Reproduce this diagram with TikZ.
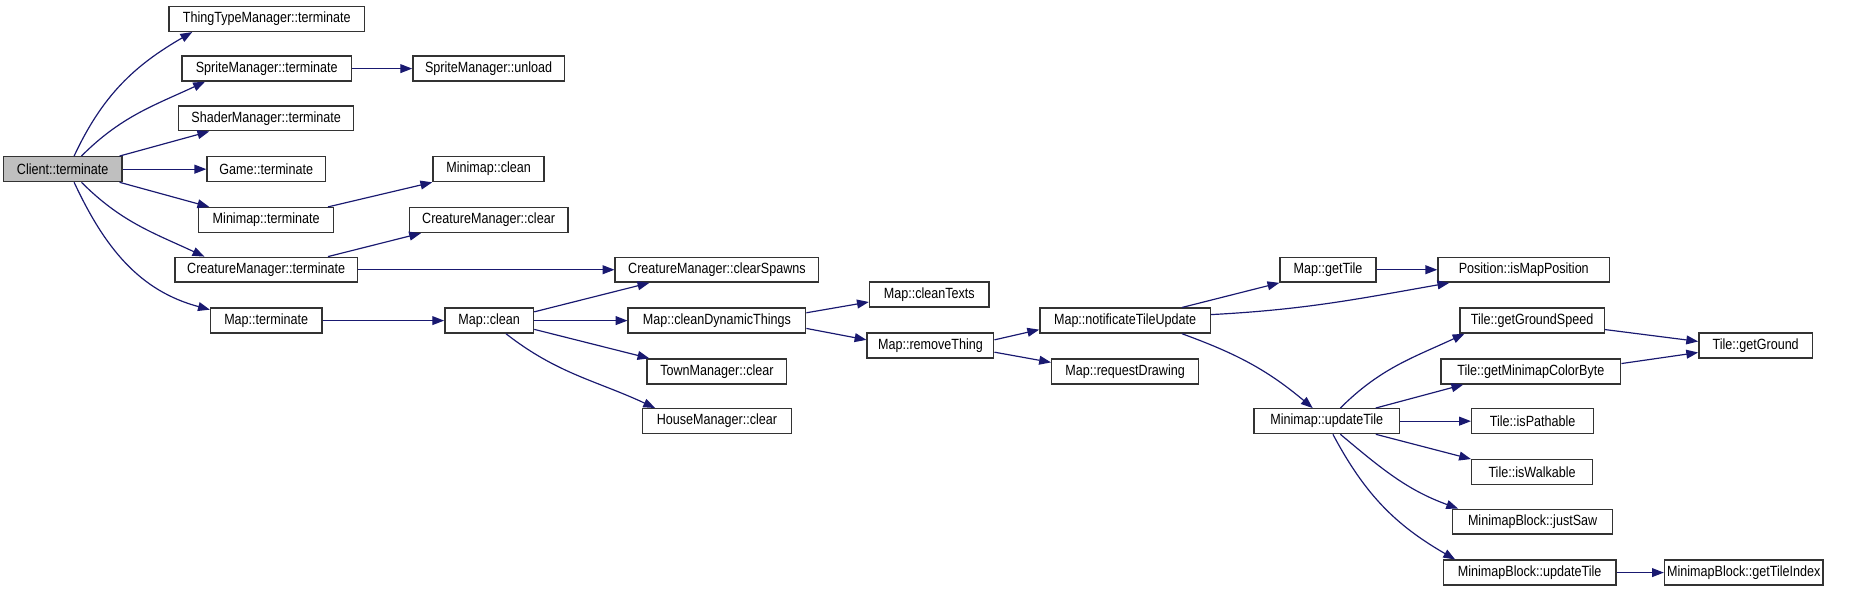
\documentclass[tikz,border=0pt]{standalone}
\usepackage{fontspec}
\setmainfont[FakeStretch=0.85]{Liberation Sans}
\usetikzlibrary{arrows.meta}
\definecolor{edgeblue}{HTML}{191970}
\definecolor{rootgray}{HTML}{BFBFBF}
\begin{document}
\begin{tikzpicture}[x=1pt,y=1pt,
		fn/.style={draw=black!80, fill=white, line width=1.2pt, minimum height=21pt, inner sep=0pt, font=\fontsize{12.5}{12.5}\selectfont},
		call/.style={draw=edgeblue, line width=1pt, -{Triangle[length=10pt,width=7.5pt]}}]
		\useasboundingbox (0,0) rectangle (1568,-503);
		
		\node[fn, fill=rootgray, minimum width=100pt] (client) at (53,-143) {Client::terminate};
		\node[fn, minimum width=165pt] (thing) at (225.5,-16) {ThingTypeManager::terminate};
		\node[fn, minimum width=143pt] (spriteterm) at (225.5,-58) {SpriteManager::terminate};
		\node[fn, minimum width=128pt] (spriteunload) at (413,-58) {SpriteManager::unload};
		\node[fn, minimum width=148pt] (shader) at (225,-100) {ShaderManager::terminate};
		\node[fn, minimum width=100pt] (game) at (225,-143) {Game::terminate};
		\node[fn, minimum width=94pt] (mmclean) at (413,-143) {Minimap::clean};
		\node[fn, minimum width=114pt] (mmterm) at (225,-186) {Minimap::terminate};
		\node[fn, minimum width=134pt] (cmclear) at (413,-186) {CreatureManager::clear};
		\node[fn, minimum width=154pt] (cmterm) at (225,-228) {CreatureManager::terminate};
		\node[fn, minimum width=172pt] (spawns) at (606,-228) {CreatureManager::clearSpawns};
		\node[fn, minimum width=94pt] (mapterm) at (225,-271) {Map::terminate};
		\node[fn, minimum width=75pt] (mapclean) at (413.5,-271) {Map::clean};
		\node[fn, minimum width=101pt] (texts) at (785.5,-249) {Map::cleanTexts};
		\node[fn, minimum width=150pt] (dynamic) at (606,-271) {Map::cleanDynamicThings};
		\node[fn, minimum width=107pt] (remove) at (786.5,-292) {Map::removeThing};
		\node[fn, minimum width=118pt] (town) at (606,-314) {TownManager::clear};
		\node[fn, minimum width=126pt] (house) at (606,-356) {HouseManager::clear};
		\node[fn, minimum width=81pt] (gettile) at (1122.5,-228) {Map::getTile};
		\node[fn, minimum width=145pt] (ismap) at (1288,-228) {Position::isMapPosition};
		\node[fn, minimum width=144pt] (notify) at (951,-271) {Map::notificateTileUpdate};
		\node[fn, minimum width=124pt] (request) at (951,-314) {Map::requestDrawing};
		\node[fn, minimum width=123pt] (mmupdate) at (1121.5,-356) {Minimap::updateTile};
		\node[fn, minimum width=122pt] (speed) at (1295,-271) {Tile::getGroundSpeed};
		\node[fn, minimum width=152pt] (color) at (1294,-314) {Tile::getMinimapColorByte};
		\node[fn, minimum width=96pt] (ground) at (1484,-292) {Tile::getGround};
		\node[fn, minimum width=103pt] (pathable) at (1295.5,-356) {Tile::isPathable};
		\node[fn, minimum width=102pt] (walkable) at (1295,-399) {Tile::isWalkable};
		\node[fn, minimum width=135pt] (justsaw) at (1295.5,-441) {MinimapBlock::justSaw};
		\node[fn, minimum width=146pt] (blockupdate) at (1293,-484) {MinimapBlock::updateTile};
		\node[fn, minimum width=134pt] (tileindex) at (1474,-484) {MinimapBlock::getTileIndex};
		
		\draw[call] (client.49) to[out=65,in=210] (thing.190);
		\draw[call] (client.35) to[out=45,in=205] (spriteterm.192);
		\draw[call] (client.13) -- (shader.193);
		\draw[call] (client) -- (game);
		\draw[call] (client.-13) -- (mmterm.167);
		\draw[call] (client.-35) to[out=-45,in=155] (cmterm.168);
		\draw[call] (client.-49) to[out=-65,in=165] (mapterm.169);
		\draw[call] (spriteterm) -- (spriteunload);
		\draw[call] (mmterm.12) -- (mmclean.south west);
		\draw[call] (cmterm.12) -- (cmclear.191);
		\draw[call] (cmterm) -- (spawns);
		\draw[call] (mapterm) -- (mapclean);
		\draw[call] (mapclean.11) -- (spawns.191);
		\draw[call] (mapclean) -- (dynamic);
		\draw[call] (mapclean.-11) -- (town.169);
		\draw[call] (mapclean.-38) to[out=-38,in=155] (house.168);
		\draw[call] (dynamic.5) -- (texts.187);
		\draw[call] (dynamic.-5) -- (remove.175);
		\draw[call] (remove.5) -- (notify.186);
		\draw[call] (remove.-6) -- (request.173);
		\draw[call] (notify.13) -- (gettile.south west);
		\draw[call] (notify.4) to[out=3,in=190] (ismap.190);
		\draw[call] (notify.-13) to[out=-20,in=140] (mmupdate.137);
		\draw[call] (gettile) -- (ismap);
		\draw[call] (mmupdate.44) to[out=45,in=205] (speed.191);
		\draw[call] (mmupdate.15) -- (color.191);
		\draw[call] (mmupdate) -- (pathable);
		\draw[call] (mmupdate.-15) -- (walkable.168);
		\draw[call] (mmupdate.-44) to[out=-40,in=160] (justsaw.170);
		\draw[call] (mmupdate.-65) to[out=-62,in=150] (blockupdate.170);
		\draw[call] (speed.-7) -- (ground.176);
		\draw[call] (color.5) -- (ground.187);
		\draw[call] (blockupdate) -- (tileindex);
		
	\end{tikzpicture}
\end{document}
